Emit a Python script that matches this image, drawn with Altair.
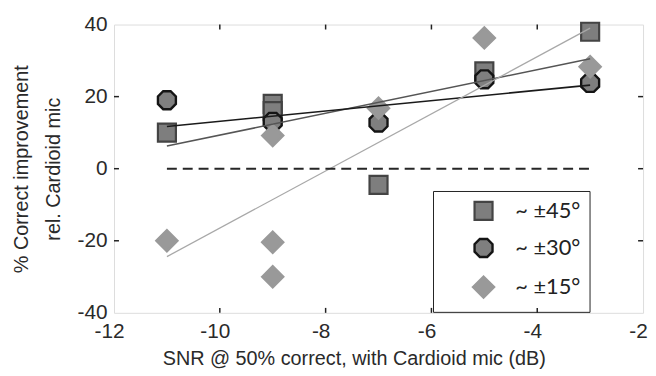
import altair as alt
import pandas as pd

# ---- data ----
series_names = ["~ ±45°", "~ ±30°", "~ ±15°"]

sq_x = [-11, -9, -9, -7, -5, -3]
sq_y = [10, 18, 16, -4.5, 27, 38]

ci_x = [-11, -9, -7, -5, -3]
ci_y = [19, 13, 12.8, 24.8, 23.8]

di_x = [-11, -9, -9, -9, -7, -5, -3]
di_y = [-20, -20.4, -30, 9.2, 16.8, 36.3, 28.3]

# fitted trend lines as drawn in the reference (end points at x = -11 and -3)
fit_x = [-11, -3]
fit_sq = [6.3, 30.5]
fit_ci = [11.7, 23.2]
fit_di = [-24.4, 39.0]

x_tick_labels = [-12, -10, -8, -6, -4, -2]
y_tick_labels = [-40, -20, 0, 20, 40]
x_inner_ticks = [-10, -8, -6, -4]
y_inner_ticks = [-20, 0, 20]

baseline_x = [-11, -3]
baseline_y = [0, 0]

# ---- tables ----
rows = []
for xs, ys, name in [(sq_x, sq_y, series_names[0]),
                     (ci_x, ci_y, series_names[1]),
                     (di_x, di_y, series_names[2])]:
    for xv, yv in zip(xs, ys):
        rows.append({"x": xv, "y": yv, "series": name})
pts = pd.DataFrame(rows)

base_df = pd.DataFrame({"x": baseline_x, "y": baseline_y})
xt_df = pd.DataFrame({"x": x_inner_ticks})
yt_df = pd.DataFrame({"y": y_inner_ticks})

W, H = 534, 291
FONT = "Liberation Sans"
TXT = "#2a2a2a"

octagon = ("M-0.383,-0.924L0.383,-0.924L0.924,-0.383L0.924,0.383L0.383,0.924"
           "L-0.383,0.924L-0.924,0.383L-0.924,-0.383Z")

xscale = alt.Scale(domain=[-12, -2], nice=False, zero=False)
yscale = alt.Scale(domain=[-40, 40], nice=False, zero=False)

xaxis = alt.Axis(values=x_tick_labels, domain=False, ticks=False, grid=False,
                 labelFont=FONT, labelFontSize=21, labelColor=TXT, labelPadding=8,
                 labelExpr="datum.value + ''", labelOffset=-5,
                 title="SNR @ 50% correct, with Cardioid mic (dB)",
                 titleFont=FONT, titleFontSize=20, titleFontWeight="normal",
                 titleColor=TXT, titleX=242, titleY=52, titleAlign="center",
                 titleBaseline="alphabetic", labelFlush=False)
yaxis = alt.Axis(values=y_tick_labels, domain=False, ticks=False, grid=False,
                 labelFont=FONT, labelFontSize=21, labelColor=TXT, labelPadding=7,
                 labelExpr="datum.value + ''",
                 title=["% Correct improvement", "rel. Cardioid mic"],
                 titleFont=FONT, titleFontSize=20, titleFontWeight="normal",
                 titleColor=TXT, titleX=-87, titleY=H / 2, titleAlign="center",
                 titleBaseline="alphabetic", titleLineHeight=32, titleAngle=270,
                 labelFlush=False)

legend = alt.Legend(title=None, orient="none", legendX=322, legendY=168,
                    strokeColor="#222222", padding=9, symbolOffset=30,
                    labelOffset=20, rowPadding=9, labelFont="Lato",
                    labelFontSize=22, labelColor="#222222",
                    labelExpr="datum.label + '\u00a0\u00a0\u00a0\u00a0\u00a0\u00a0\u00a0'")

points = alt.Chart(pts).mark_point(filled=True, opacity=1).encode(
    x=alt.X("x:Q", scale=xscale, axis=xaxis),
    y=alt.Y("y:Q", scale=yscale, axis=yaxis),
    shape=alt.Shape("series:N", scale=alt.Scale(domain=series_names,
                    range=["square", octagon, "diamond"]), legend=legend),
    fill=alt.Fill("series:N", scale=alt.Scale(domain=series_names,
                  range=["#7e7e7e", "#7f7f7f", "#999999"]), legend=legend),
    stroke=alt.Stroke("series:N", scale=alt.Scale(domain=series_names,
                      range=["#444444", "#141414", "#999999"]), legend=legend),
    size=alt.Size("series:N", scale=alt.Scale(domain=series_names,
                  range=[330, 440, 580]), legend=legend),
    strokeWidth=alt.StrokeWidth("series:N", scale=alt.Scale(domain=series_names,
                                range=[2.2, 2.6, 0.5]), legend=legend),
)

fits = []
for fy, col, wd in [(fit_sq, "#555555", 1.6),
                    (fit_ci, "#1a1a1a", 1.6),
                    (fit_di, "#a8a8a8", 1.3)]:
    fdf = pd.DataFrame({"x": fit_x, "y": fy})
    fits.append(
        alt.Chart(fdf).mark_line(color=col, strokeWidth=wd)
        .encode(x=alt.X("x:Q", scale=xscale), y=alt.Y("y:Q", scale=yscale))
    )

dashed = alt.Chart(base_df).mark_line(color="#262626", strokeWidth=2,
                                       strokeDash=[10, 6]).encode(
    x=alt.X("x:Q", scale=xscale), y=alt.Y("y:Q", scale=yscale))

tick_style = dict(color="#222222", strokeWidth=1.5)
t_bottom = alt.Chart(xt_df).mark_rule(**tick_style).encode(
    x=alt.X("x:Q", scale=xscale), y=alt.value(H), y2=alt.value(H - 5))
t_top = alt.Chart(xt_df).mark_rule(**tick_style).encode(
    x=alt.X("x:Q", scale=xscale), y=alt.value(0), y2=alt.value(5))
t_left = alt.Chart(yt_df).mark_rule(**tick_style).encode(
    y=alt.Y("y:Q", scale=yscale), x=alt.value(0), x2=alt.value(5))
t_right = alt.Chart(yt_df).mark_rule(**tick_style).encode(
    y=alt.Y("y:Q", scale=yscale), x=alt.value(W), x2=alt.value(W - 5))

chart = alt.layer(points, *fits, dashed, t_bottom, t_top, t_left, t_right).properties(
    width=W, height=H,
    autosize=alt.AutoSizeParams(type="none"),
    padding={"left": 107, "top": 15, "right": 5, "bottom": 58},
).configure_view(stroke="#1e1e1e", strokeWidth=1.6).configure(background="white")

chart.save("out.html", embed_options={"renderer": "svg", "actions": False})
